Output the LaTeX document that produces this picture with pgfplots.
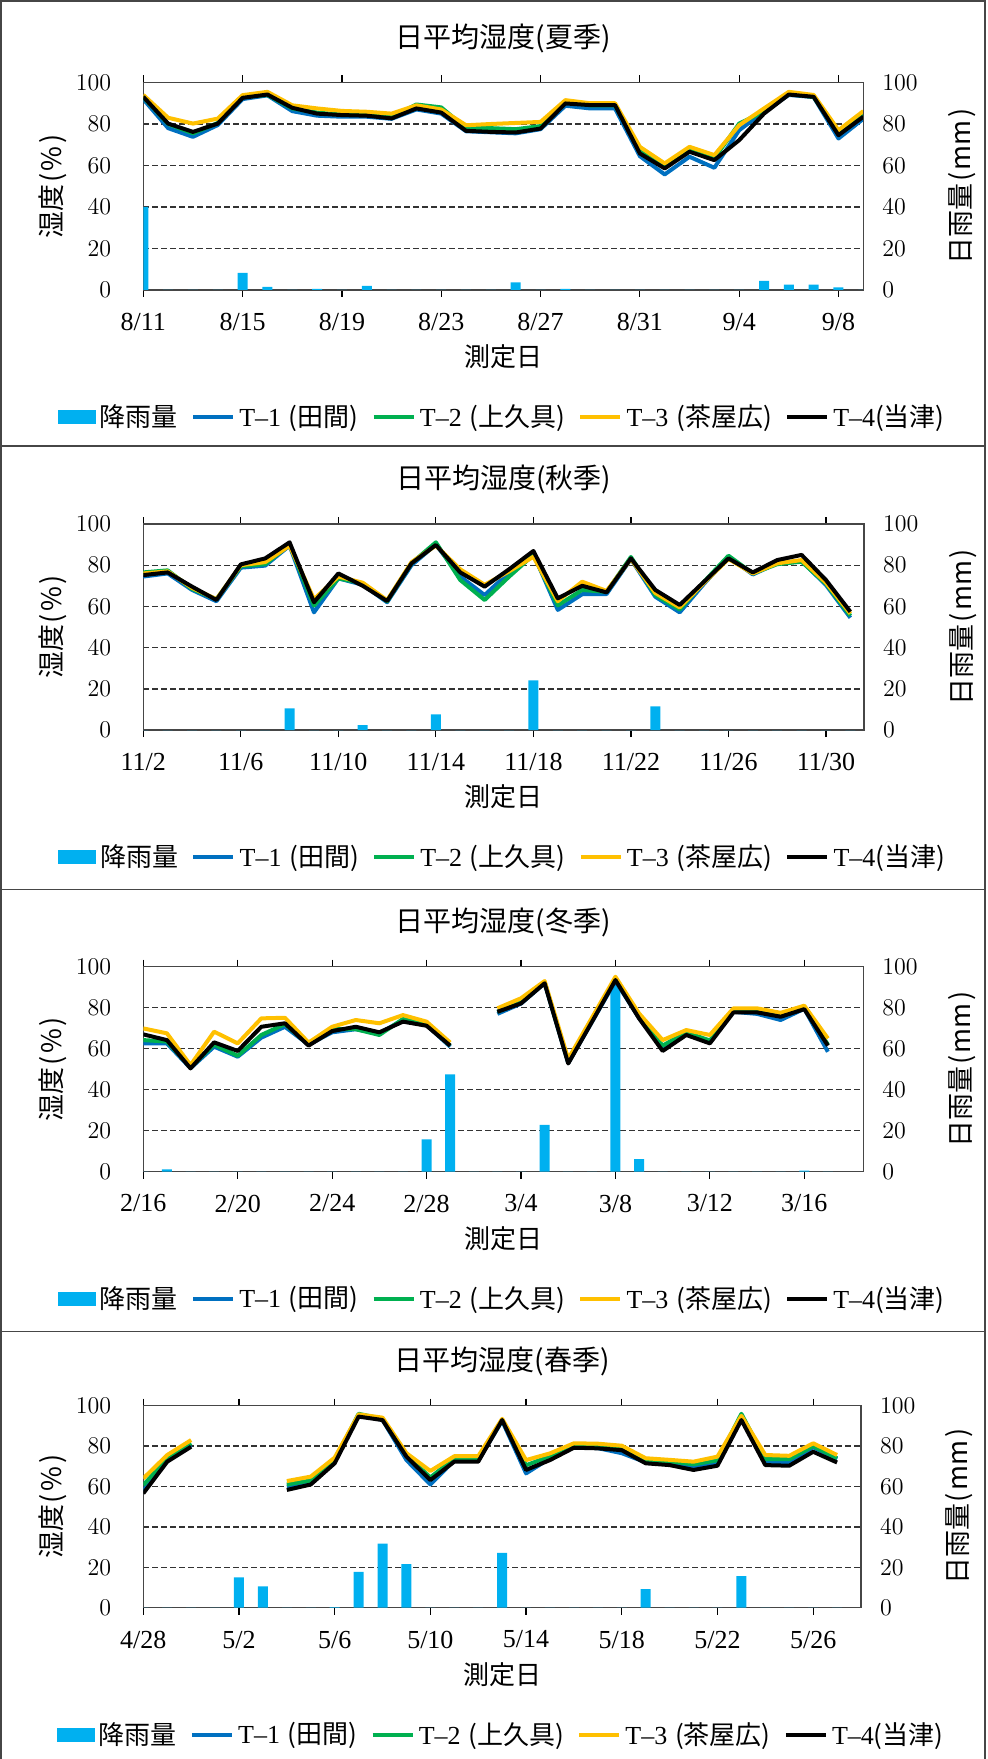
\documentclass[border=0pt]{standalone}
\usepackage{fontspec}
\setmainfont{Liberation Serif}
\newfontfamily\jp{Noto Sans CJK JP}
\usepackage{pgfplots}
\usepackage{pgfplotstable}
\pgfplotsset{compat=1.18}

\definecolor{rain}{RGB}{0,176,240}
\definecolor{tone}{RGB}{0,112,192}
\definecolor{ttwo}{RGB}{0,176,80}
\definecolor{tthree}{RGB}{255,192,0}
\definecolor{tfour}{RGB}{0,0,0}
\definecolor{frame}{RGB}{70,70,70}

\newcommand\fs{\fontsize{13}{15}\selectfont}

% columns: day index, T-1, T-2, T-3, T-4 (humidity %), daily rainfall (mm)
\pgfplotstableread{
d t1 t2 t3 t4 rain
0 92 93 94 93.1 40
1 78 80 83 80.2 0
2 73.8 75.5 80.2 76.2 0
3 79.5 80.5 82.6 80.2 0
4 92 93 93.9 92.6 8.3
5 93.8 94 95.5 94.2 1.5
6 86.2 87.5 89 87.8 0
7 84 85.5 87.5 85 0.5
8 83.5 84.5 86.3 84.3 0
9 83.5 84.5 85.9 84 2
10 82.5 83.5 85 82.7 0
11 87 89.4 89 87.5 0
12 85 88 87 85.5 0
13 76.5 78 79.4 76.7 0
14 76 78 80 76.2 0
15 75.5 77.5 80.5 75.9 3.7
16 77.5 79 81 77.8 0
17 88.8 90.5 91.5 89.9 0.5
18 87.5 89 90 89.1 0
19 87.5 89 90 89.1 0
20 64.5 67 69 65.8 0
21 55.7 59.5 61 58.6 0
22 64.2 67.5 69 66.6 0
23 58.9 63.5 65 62.6 0
24 77 80.2 79.4 72.2 0
25 86 86 87.5 85 4.4
26 94 94.5 95.5 94.2 2.6
27 93 93 94 93.1 2.6
28 73 75.5 77 74.6 1.3
29 82.5 85 86.2 83.5 0
}\summer

\pgfplotstableread{
d t1 t2 t3 t4 rain
0 74.5 76.5 76 75.2 0
1 76 77.5 77 76.5 0
2 68 68.5 69 69.6 0
3 62.5 63.5 63.5 63.1 0
4 78.8 79.5 80 80.4 0
5 79.8 80.5 81.5 83.3 0
6 89.5 90 89.5 91.1 10.5
7 57.1 60.4 63.5 62 0
8 73.6 73.6 74.5 76 0
9 70.5 71.2 71.5 70 2.4
10 62 62.5 63 62.6 0
11 80 81 81.5 80.9 0
12 90 91.1 89.5 89.8 7.6
13 74.5 72.8 78 76.5 0
14 65.5 63.1 70.5 69.6 0
15 76.5 74.4 77 78 0
16 85.5 85 84.1 86.9 24.1
17 58.3 60.5 62.5 63.9 0
18 65.9 68 72 70 0
19 66 67 67.5 66.8 0
20 83 84 83 83.3 0
21 64.7 65.5 66.5 68 11.5
22 57.1 58.5 59.5 60.7 0
23 71 72 71.5 72 0
24 84 84.6 83 83.3 0
25 75.5 76 76 76.5 0
26 81 80.5 80.9 82.5 0
27 82 81.7 82.5 85 0
28 70.4 71 71.5 72.8 0
29 54.5 55.5 56.5 57.4 0
}\autumn

\pgfplotstableread{
d t1 t2 t3 t4 rain
0 62.6 64.2 69.9 67 0
1 62.6 63.5 67.5 64.2 1.1
2 50.5 51 52 50.4 0
3 61 62 68.3 63.1 0
4 56.1 56.5 62.6 58.9 0
5 65.4 66.7 74.8 70.7 0
6 70.7 72 75.1 72.4 0
7 62 62 63 61.5 0
8 68 69.5 70.7 68.6 0
9 69.5 69.5 74 70.7 0
10 67.5 66.7 72.4 68 0
11 74 74.5 76.4 73.2 0
12 71.5 72 73.2 71.2 15.8
13 61 61.5 63 61.5 47.5
14 nan nan nan nan 0
15 77 78 79.7 78 0
16 82 83 84.6 82.1 0
17 92 92.5 93 91.9 22.8
18 53 53.5 55 52.8 0
19 73 74 75 73 0
20 93 94 95.1 93.5 92
21 75 76 77.2 74.8 6.2
22 60.5 61.5 64.2 58.9 0
23 67.5 68 69.1 66.7 0
24 63.5 64 66.7 62.6 0
25 78 78.5 79.7 77.7 0
26 77 78.5 79.7 77.7 0
27 74 76 77.5 75.6 0
28 79.5 80 81 79.3 0.5
29 58.5 62 65 61.5 0
}\winter

\pgfplotstableread{
d t1 t2 t3 t4 rain
0 58 60.7 64 56.6 0
1 73 74 75.6 72.3 0
2 80.5 81.5 83 79.7 0
3 nan nan nan nan 0
4 nan nan nan nan 15
5 nan nan nan nan 10.6
6 60 61 62.7 58.3 0
7 62 63 64.9 61 0
8 72.5 73 74.3 71.5 0.3
9 95.5 96 95.7 94.6 17.8
10 93 93.5 94.1 92.9 31.7
11 73.1 75.5 76.5 74.8 21.6
12 61 64.5 67.7 63.2 0
13 73 74 75 72.3 0
14 73 74 75 72.3 0
15 92.5 93 93.5 92.9 27.1
16 66.5 70.5 73.1 68.2 0
17 74 75 76.4 73.1 0
18 79.5 80.5 81.4 79.2 0
19 79 80 81.2 78.9 0
20 76.5 79 80.2 78 0
21 72 73 74 71.5 9.2
22 71 72.5 73.2 70.6 0
23 70 71 72.3 68.2 0
24 71.5 73 74.8 70.3 0
25 94 96 95 92.9 15.7
26 72 73.5 75.6 70.6 0
27 72 73.5 75.2 70.3 0
28 79.5 80 81.4 77.2 0
29 73.5 74 75.6 71.9 0
}\spring

\pgfplotsset{
  panel/.style={
    scale only axis, anchor=north west,
    xmin=0, ymin=0, ymax=100,
    xtick={0,4,...,28},
    ytick={0,20,...,100},
    ymajorgrids,
    grid style={dash pattern=on 3pt off 1.5pt, line width=0.7pt, black!80},
    axis line style={frame, line width=0.6pt},
    tick align=outside, major tick length=3.5pt,
    xtick style={black, line width=0.6pt},
    ytick style={draw=none},
    tick label style={font=\fs},
    xticklabel style={yshift=-4.5pt},
    yticklabel style={xshift=-9pt},
    unbounded coords=jump,
    title style={font=\jp\fontsize{14}{16}\selectfont, at={(axis description cs:0.5,1)}, anchor=center, yshift=16.25pt},
    xlabel={\jp 測定日},
    xlabel style={font=\fs, at={(axis description cs:0.5,0)}, anchor=center, yshift=-33.5pt},
    ylabel={\jp 湿度\hspace{0.05em}(\hspace{0.1em}\%\hspace{0.1em})},
    ylabel style={font=\fontsize{13.5}{15}\selectfont, at={(axis description cs:-0.1254,0.5)}, anchor=center, rotate=0},
    legend style={draw=none, fill=none, font=\fs, legend columns=5,
      at={(axis description cs:0.5,0)}, anchor=center, yshift=-63.5pt,
      /tikz/every even column/.append style={column sep=4.5pt},
      /tikz/every odd column/.append style={column sep=0pt},
      inner sep=0pt},
    legend entries={{\jp 降雨量},
      {T–1\hspace{0.3em}\jp (田間)},
      {T–2\hspace{0.3em}\jp (上久具)},
      {T–3\hspace{0.3em}\jp (茶屋広)},
      {T–4\jp (当津)}},
  },
  rightpanel/.style={
    scale only axis, anchor=north west,
    axis y line*=right, axis x line=none,
    xmin=0, xmax=1, ymin=0, ymax=100,
    ytick={0,20,...,100},
    axis line style={frame, line width=0.6pt},
    ytick style={draw=none},
    tick label style={font=\fs},
    yticklabel style={xshift=6pt},
    ylabel={\jp 日雨量\hspace{0.05em}(\hspace{0.1em}mm\hspace{0.1em})},
    ylabel style={font=\fontsize{13.5}{15}\selectfont, at={(axis description cs:1.137,0.5)}, anchor=center, rotate=0},
  },
  rainbar/.style={ybar, bar width=5pt, fill=rain, draw=none,
    legend image code/.code={\fill[rain] (0pt,-3.5pt) rectangle (19pt,3.5pt);}},
  humline/.style={line width=2pt, line join=round, no marks,
    legend image code/.code={\draw[##1, line width=2.2pt] (0pt,0pt) -- (20pt,0pt);}},
}

\newcommand\series[1]{%
  \addplot[rainbar] table[x=d, y=rain] {#1};
  \addplot[humline, color=tone]   table[x=d, y=t1] {#1};
  \addplot[humline, color=ttwo]   table[x=d, y=t2] {#1};
  \addplot[humline, color=tthree] table[x=d, y=t3] {#1};
  \addplot[humline, color=tfour]  table[x=d, y=t4] {#1};
}

\begin{document}
\begin{tikzpicture}
\useasboundingbox (0pt,0pt) rectangle (493.5pt,-879.5pt);

% outer frames of the four panels
\draw[frame, line width=0.75pt] (0.6pt,-0.6pt) rectangle (492.6pt,-223pt);
\draw[frame, line width=0.75pt] (0.6pt,-223pt) rectangle (492.6pt,-444.75pt);
\draw[frame, line width=0.75pt] (0.6pt,-444.75pt) rectangle (492.6pt,-665.75pt);
\draw[frame, line width=0.75pt] (0.6pt,-879.5pt) -- (0.6pt,-665.75pt) -- (492.6pt,-665.75pt) -- (492.6pt,-879.5pt);

% summer
\begin{axis}[panel, at={(71.65pt,-41.25pt)}, width=360pt, height=103.75pt, xmax=29,
  title={日平均湿度(夏季)},
  xticklabels={8/11,8/15,8/19,8/23,8/27,8/31,9/4,9/8}]
\series{\summer}
\end{axis}
\begin{axis}[rightpanel, at={(71.65pt,-41.25pt)}, width=360pt, height=103.75pt]
\end{axis}

% autumn
\begin{axis}[panel, at={(71.65pt,-262pt)}, width=360.35pt, height=103pt, xmax=29.56,
  title={日平均湿度(秋季)},
  xticklabels={11/2,11/6,11/10,11/14,11/18,11/22,11/26,11/30}]
\series{\autumn}
\end{axis}
\begin{axis}[rightpanel, at={(71.65pt,-262pt)}, width=360.35pt, height=103pt]
\end{axis}

% winter
\begin{axis}[panel, at={(71.65pt,-483.35pt)}, width=360pt, height=102.5pt, xmax=30.5,
  title={日平均湿度(冬季)},
  xticklabels={2/16,2/20,2/24,2/28,3/4,3/8,3/12,3/16}]
\series{\winter}
\end{axis}
\begin{axis}[rightpanel, at={(71.65pt,-483.35pt)}, width=360pt, height=102.5pt]
\end{axis}

% spring
\begin{axis}[panel, at={(71.65pt,-702.85pt)}, width=358.85pt, height=101pt, xmax=30,
  title={日平均湿度(春季)},
  xticklabels={4/28,5/2,5/6,5/10,5/14,5/18,5/22,5/26}]
\series{\spring}
\end{axis}
\begin{axis}[rightpanel, at={(71.65pt,-702.85pt)}, width=358.85pt, height=101pt]
\end{axis}
\end{tikzpicture}
\end{document}
